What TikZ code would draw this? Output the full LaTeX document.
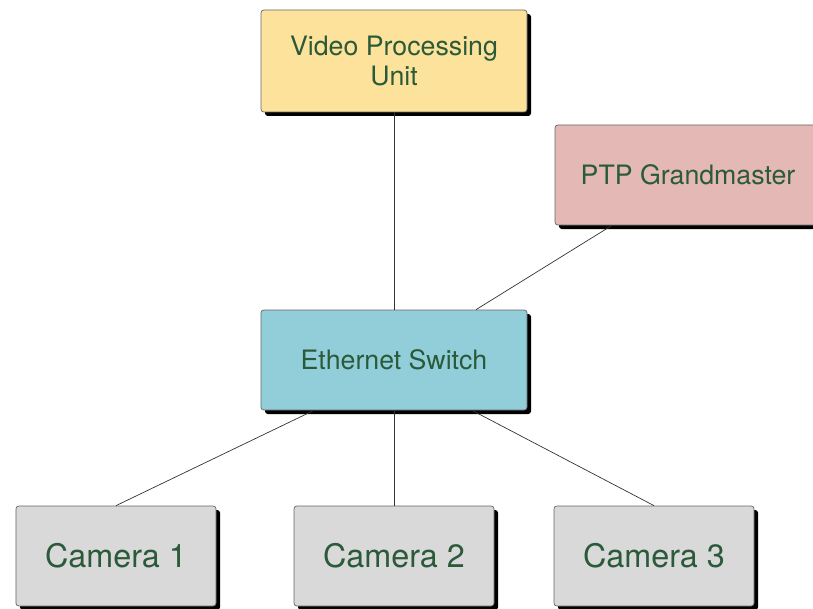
\documentclass[tikz,border=0pt]{standalone}
\usepackage{fontspec}
\setmainfont{TeX Gyre Heros}
\usetikzlibrary{shadows}

\definecolor{boxtext}{HTML}{2B5A3A}
\definecolor{vpufill}{HTML}{FCE29B}
\definecolor{ptpfill}{HTML}{E4B9B5}
\definecolor{swfill}{HTML}{92CDDA}
\definecolor{camfill}{HTML}{D9D9D9}

\begin{document}
\begin{tikzpicture}[
    box/.style={draw=black!60, line width=0.5pt, rounded corners=2pt, text=boxtext,
        align=center, minimum width=6.65cm, minimum height=2.5cm,
        font=\fontsize{19}{22}\selectfont,
        drop shadow={shadow xshift=0.1cm, shadow yshift=-0.1cm, opacity=1, fill=black}},
    cambox/.style={box, fill=camfill, minimum width=5cm, font=\fontsize{23}{26}\selectfont},
    link/.style={draw=black!80, line width=0.5pt}
]
    % Page frame
    \useasboundingbox (0,0) rectangle (20.325,15.2);
    % Top row
    \node[box, fill=vpufill, minimum height=2.55cm] (vpu) at (9.85,13.675) {Video Processing\\Unit};
    \node[box, fill=ptpfill] (ptp) at (17.2,10.825) {PTP Grandmaster};
    % Switch
    \node[box, fill=swfill] (sw) at (9.85,6.2) {Ethernet Switch};
    % Cameras
    \foreach \n/\x in {1/2.9, 2/9.85, 3/16.35}
    {
        \node[cambox] (cam\n) at (\x,1.3) {Camera \n};
    }
    % Links
    \draw[link] (vpu) -- (sw);
    \draw[link] ([xshift=-1.9cm]ptp.south) -- ([xshift=2.05cm]sw.north);
    \draw[link] ([xshift=-2cm]sw.south) -- (cam1.north);
    \draw[link] (sw.south) -- (cam2.north);
    \draw[link] ([xshift=1.95cm]sw.south) -- (cam3.north);
\end{tikzpicture}
\end{document}
